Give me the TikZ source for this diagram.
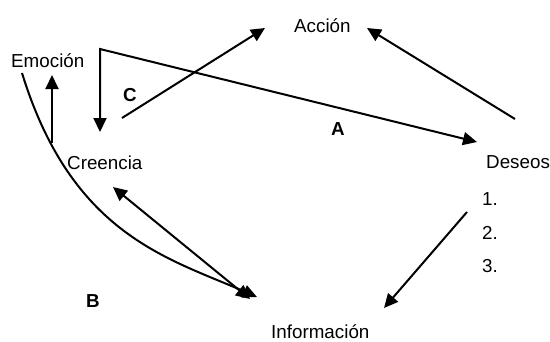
\documentclass[tikz,border=0pt]{standalone}
\usepackage{fontspec}
\setmainfont{Liberation Sans}
\usetikzlibrary{arrows.meta}
\begin{document}
\begin{tikzpicture}[x=1pt,y=-1pt,
  lbl/.style={inner sep=0pt,anchor=base west,font=\fontsize{18.8}{20}\selectfont},
  blbl/.style={lbl,font=\fontsize{18.8}{20}\selectfont\bfseries},
  tip/.style={},
  conn/.style={line width=2pt,-{Triangle[length=14pt,width=13pt]}},
  dconn/.style={line width=2pt,{Triangle[length=14pt,width=13pt]}-{Triangle[length=14pt,width=13pt]}}]
\useasboundingbox (0,0) rectangle (550,341);
% texts
\node[lbl] (acc) at (294,32) {Acción};
\node[lbl,text depth=0pt] (inf) at (271,338) {Información};
\node[lbl] (des) at (486,168) {Deseos};
\node[lbl] (emo) at (11,67) {Emoción};
\node[lbl] (cre) at (67,169) {Creencia};
\node[lbl] (n1) at (482,205) {1.};
\node[lbl] (n2) at (482,239) {2.};
\node[lbl] (n3) at (482,272) {3.};
\node[blbl] (lc) at (123,101) {C};
\node[blbl] (la) at (331,135) {A};
\node[blbl] (lb) at (86,307) {B};
% connector end points
\coordinate (emoUpS) at (52,143);
\coordinate (emoUpE) at (52,75);
\coordinate (creTip) at (100,132);
\coordinate (corner) at (100,49);
\coordinate (desTip) at (477,142);
\coordinate (cS) at (122,118);
\coordinate (accTipL) at (265,28);
\coordinate (desS) at (515,119);
\coordinate (accTipR) at (367,28);
\coordinate (bS) at (22,73);
\coordinate (infTipB) at (257,297);
\coordinate (creTipD) at (113,187);
\coordinate (infTipD) at (250,299);
\coordinate (n1S) at (467,212);
\coordinate (infTipR) at (384,308);
% connectors
\draw[conn] (emoUpS) -- (emoUpE);
\draw[dconn] (creTip) -- (corner) -- (desTip);
\draw[conn] (cS) -- (accTipL);
\draw[conn] (desS) -- (accTipR);
\draw[conn] (bS) .. controls (72,235) and (168,258) .. (infTipB);
\draw[dconn] (creTipD) -- (infTipD);
\draw[conn] (n1S) -- (infTipR);
\end{tikzpicture}
\end{document}
